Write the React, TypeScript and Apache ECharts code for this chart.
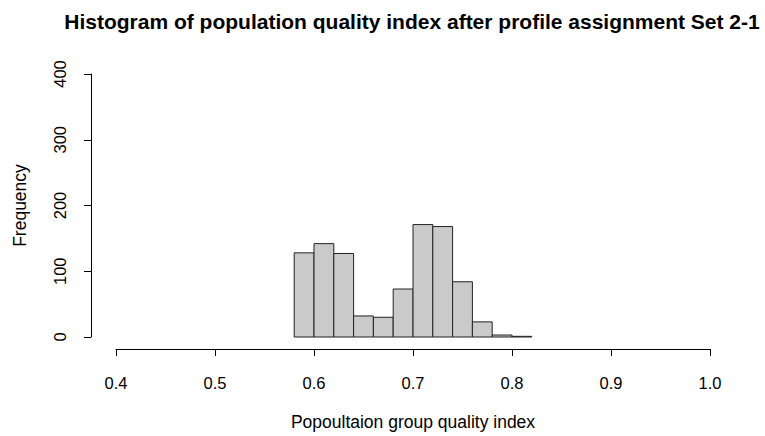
import React, { useEffect, useRef } from "react";
import * as echarts from "echarts";

const binStarts = [0.58, 0.6, 0.62, 0.64, 0.66, 0.68, 0.7, 0.72, 0.74, 0.76, 0.78, 0.8];
const binWidth = 0.02;
const counts = [128, 142, 127, 32, 30, 73, 171, 168, 84, 23, 3, 1];
const xTicks = [0.4, 0.5, 0.6, 0.7, 0.8, 0.9, 1.0];
const yTicks = [0, 100, 200, 300, 400];

const FONT = "'Liberation Sans', Arial, Helvetica, sans-serif";

export default function App() {
  const ref = useRef<HTMLDivElement>(null);
  useEffect(() => {
    if (!ref.current) return;
    const chart = echarts.init(ref.current, undefined, { renderer: "svg" });
    const data = binStarts.map((s, i) => [s, s + binWidth, counts[i]]);
    chart.setOption({
      animation: false,
      backgroundColor: "#ffffff",
      textStyle: { fontFamily: FONT },
      title: {
        text: "Histogram of population quality index after profile assignment Set 2-1",
        left: 407,
        top: 6,
        textAlign: "center",
        textStyle: { fontFamily: FONT, fontSize: 21, fontWeight: "bold", color: "#000" },
      },
      grid: { left: 116, right: 55, top: 74, bottom: 99 },
      xAxis: {
        type: "value",
        min: xTicks[0],
        max: xTicks[xTicks.length - 1],
        interval: 0.1,
        offset: 12,
        name: "Popoultaion group quality index",
        nameLocation: "middle",
        nameGap: 64,
        nameTextStyle: { fontFamily: FONT, fontSize: 17.5, color: "#000" },
        axisLine: { onZero: false, lineStyle: { color: "#000", width: 1 } },
        axisTick: { length: 7, lineStyle: { color: "#000" } },
        axisLabel: {
          fontFamily: FONT,
          fontSize: 16.5,
          color: "#000",
          margin: 25,
          formatter: (v: number) => v.toFixed(1),
        },
        splitLine: { show: false },
      },
      yAxis: {
        type: "value",
        min: yTicks[0],
        max: yTicks[yTicks.length - 1],
        interval: 100,
        offset: 25,
        name: "Frequency",
        nameLocation: "middle",
        nameGap: 62,
        nameTextStyle: { fontFamily: FONT, fontSize: 17.5, color: "#000" },
        axisLine: { show: true, lineStyle: { color: "#000", width: 1 } },
        axisTick: { show: true, length: 7, lineStyle: { color: "#000" } },
        axisLabel: { fontFamily: FONT, fontSize: 16.5, color: "#000", margin: 23, rotate: 90 },
        splitLine: { show: false },
      },
      series: [
        {
          type: "custom",
          data,
          encode: { x: [0, 1], y: 2 },
          renderItem: (params: any, api: any) => {
            const p0 = api.coord([api.value(0), api.value(2)]);
            const p1 = api.coord([api.value(1), 0]);
            return {
              type: "rect",
              shape: { x: p0[0], y: p0[1], width: p1[0] - p0[0], height: p1[1] - p0[1] },
              style: { fill: "#cacaca", stroke: "#222", lineWidth: 1 },
            };
          },
        },
      ],
    });
    return () => chart.dispose();
  }, []);
  return (
    <div
      ref={ref}
      style={{ position: "fixed", left: 0, top: 0, width: 765, height: 436 }}
    />
  );
}
